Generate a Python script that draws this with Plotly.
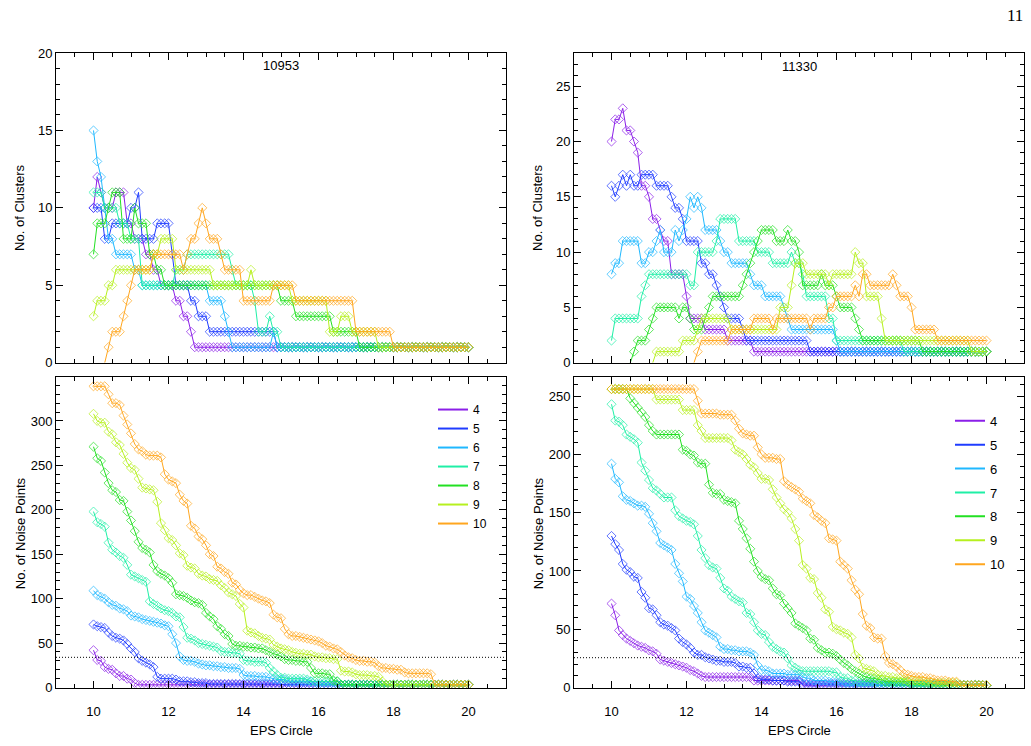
import plotly.graph_objects as go

# ---------------- DATA ----------------
eps = [10.0, 10.1, 10.2, 10.3, 10.4, 10.5, 10.6, 10.7, 10.8, 10.9,
       11.0, 11.1, 11.2, 11.3, 11.4, 11.5, 11.6, 11.7, 11.8, 11.9,
       12.0, 12.1, 12.2, 12.3, 12.4, 12.5, 12.6, 12.7, 12.8, 12.9,
       13.0, 13.1, 13.2, 13.3, 13.4, 13.5, 13.6, 13.7, 13.8, 13.9,
       14.0, 14.1, 14.2, 14.3, 14.4, 14.5, 14.6, 14.7, 14.8, 14.9,
       15.0, 15.1, 15.2, 15.3, 15.4, 15.5, 15.6, 15.7, 15.8, 15.9,
       16.0, 16.1, 16.2, 16.3, 16.4, 16.5, 16.6, 16.7, 16.8, 16.9,
       17.0, 17.1, 17.2, 17.3, 17.4, 17.5, 17.6, 17.7, 17.8, 17.9,
       18.0, 18.1, 18.2, 18.3, 18.4, 18.5, 18.6, 18.7, 18.8, 18.9,
       19.0, 19.1, 19.2, 19.3, 19.4, 19.5, 19.6, 19.7, 19.8, 19.9,
       20.0]

min_pts = ["4", "5", "6", "7", "8", "9", "10"]

# ---- No. of clusters, object 10953 ----
clusters_10953_k4 = [10,12,11,10,10,10,11,11,11,9, 9,8,8,8,7,7,6,6,5,5, 5,5,4,4,3,3,2,1,1,1,
                     1,1,1,1,1,1,1,1,1,1, 1,1,1,1,1,1,1,1,1,1, 1,1,1,1,1,1,1,1,1,1,
                     1,1,1,1,1,1,1,1,1,1, 1,1,1,1,1,1,1,1,1,1, 1,1,1,1,1,1,1,1,1,1,
                     1,1,1,1,1,1,1,1,1,1, 1]
clusters_10953_k5 = [10,10,10,8,8,9,9,9,9,9, 10,10,11,8,8,8,8,9,9,9, 9,7,5,5,5,5,4,4,3,3,
                     3,2,2,2,2,2,2,2,2,2, 2,2,2,2,2,2,2,2,2,1, 1,1,1,1,1,1,1,1,1,1,
                     1,1,1,1,1,1,1,1,1,1, 1,1,1,1,1,1,1,1,1,1, 1,1,1,1,1,1,1,1,1,1,
                     1,1,1,1,1,1,1,1,1,1, 1]
clusters_10953_k6 = [15,13,12,10,8,8,7,7,7,7, 7,6,6,5,5,5,5,5,5,5, 5,5,5,5,5,5,5,5,5,5,
                     5,4,4,4,4,3,2,1,1,1, 1,1,1,1,1,1,1,1,2,1, 1,1,1,1,1,1,1,1,1,1,
                     1,1,1,1,1,1,1,1,1,1, 1,1,1,1,1,1,1,1,1,1, 1,1,1,1,1,1,1,1,1,1,
                     1,1,1,1,1,1,1,1,1,1, 1]
clusters_10953_k7 = [11,11,11,10,10,10,10,9,9,9, 8,8,8,5,5,5,5,5,5,5, 5,5,6,6,6,7,7,7,7,7,
                     7,7,7,7,7,7,7,6,5,5, 5,5,5,4,2,2,2,3,2,2, 1,1,1,1,1,1,1,1,1,1,
                     1,1,1,1,1,1,1,1,1,1, 1,1,1,1,1,1,1,1,1,1, 1,1,1,1,1,1,1,1,1,1,
                     1,1,1,1,1,1,1,1,1,1, 1]
clusters_10953_k8 = [7,9,9,9,10,11,11,11,8,8, 8,10,9,9,9,7,7,6,6,5, 5,5,5,5,5,5,5,5,5,5,
                     5,5,5,5,5,5,5,5,5,5, 5,5,5,5,5,5,5,5,5,5, 4,4,4,4,3,3,3,3,3,3,
                     3,3,3,3,2,2,2,2,2,2, 2,1,1,1,1,1,1,1,1,1, 1,1,1,1,1,1,1,1,1,1,
                     1,1,1,1,1,1,1,1,1,1, 1]
clusters_10953_k9 = [3,4,4,4,5,5,6,6,6,6, 6,6,6,6,6,6,7,7,8,8, 8,8,6,6,6,6,6,6,6,6,
                     6,6,5,5,5,5,5,5,5,5, 5,5,6,5,5,5,5,5,5,5, 5,5,5,4,4,4,4,4,4,4,
                     4,4,4,2,2,2,3,3,3,2, 2,2,2,2,2,2,1,1,1,1, 1,1,1,1,1,1,1,1,1,1,
                     1,1,1,1,1,1,1,1,1,1, 1]
clusters_10953_k10 = [0,0,0,0,1,2,2,2,3,4, 5,6,6,6,6,6,7,7,7,7, 7,7,7,7,6,7,8,8,9,10,
                      9,8,8,8,7,6,6,6,6,6, 4,4,4,4,4,4,4,4,5,5, 5,5,5,5,4,4,4,4,4,4,
                      4,4,4,4,4,4,4,4,4,4, 2,2,2,2,2,2,2,2,2,2, 1,1,1,1,1,1,1,1,1,1,
                      1,1,1,1,1,1,1,1,1,1, 1]

# ---- No. of clusters, object 11330 ----
clusters_11330_k4 = [20,22,22,23,21,21,20,19,16,16, 15,13,13,12,11,11,8,8,8,8, 6,4,4,4,4,3,3,3,3,3,
                     3,2,2,2,2,2,2,2,1,1, 1,1,1,1,1,1,1,1,1,1, 1,1,1,1,1,1,1,1,1,1,
                     1,1,1,1,1,1,1,1,1,1, 1,1,1,1,1,1,1,1,1,1, 1,1,1,1,1,1,1,1,1,1,
                     1,1,1,1,1,1,1,1,1,1, 1]
clusters_11330_k5 = [16,15,16,17,16,17,16,16,17,17, 17,17,16,16,16,16,15,14,14,13, 11,11,11,11,9,9,8,8,7,6,
                     5,4,4,4,4,3,2,2,2,2, 2,2,2,2,2,2,2,2,2,2, 2,2,2,1,1,1,1,1,1,1,
                     1,1,1,1,1,1,1,1,1,1, 1,1,1,1,1,1,1,1,1,1, 1,1,1,1,1,1,1,1,1,1,
                     1,1,1,1,1,1,1,1,1,1, 1]
clusters_11330_k6 = [8,9,9,11,11,11,11,11,9,9, 10,10,11,12,10,10,10,12,11,12, 13,15,14,15,14,12,12,12,12,11,
                     10,10,9,9,9,9,9,8,7,7, 7,6,6,6,6,6,5,4,3,3, 3,3,3,3,3,3,3,3,3,3,
                     2,1,1,1,1,1,1,1,1,1, 1,1,1,1,1,1,1,1,1,1, 1,1,1,1,1,1,1,1,1,1,
                     1,1,1,1,1,1,1,1,1,1, 1]
clusters_11330_k7 = [2,4,4,4,4,4,4,4,6,7, 8,8,8,8,8,8,8,8,8,8, 8,7,7,10,10,10,10,10,11,13,
                     13,13,13,13,11,11,11,11,11,10, 10,10,10,9,9,9,9,9,10,9, 9,8,6,6,6,6,6,6,4,4,
                     2,2,2,2,2,2,2,2,2,2, 2,2,2,2,2,2,2,2,1,1, 1,1,1,1,1,1,1,1,1,1,
                     1,1,1,1,1,1,1,1,1,1, 1]
clusters_11330_k8 = [0,0,0,0,0,0,1,2,2,2, 3,4,5,5,5,5,5,5,4,5, 5,4,3,3,3,4,5,6,6,6,
                     6,6,6,6,6,7,8,9,10,11, 12,12,12,12,11,11,11,12,11,11, 10,7,7,7,7,7,8,7,7,7,
                     6,5,5,5,5,4,3,2,2,2, 2,2,2,2,2,2,2,2,2,2, 2,2,2,1,1,1,1,1,1,1,
                     1,1,1,1,1,1,1,1,1,1, 1]
clusters_11330_k9 = [0,0,0,0,0,0,0,0,0,0, 0,0,1,1,1,1,1,1,1,2, 2,2,2,3,4,4,4,4,4,4,
                     4,4,3,3,3,3,3,3,3,3, 3,3,3,3,3,5,5,5,7,9, 9,9,8,8,8,8,8,8,7,8,
                     8,8,8,8,8,10,9,9,6,6, 6,6,4,2,2,2,2,2,2,2, 2,2,2,2,2,2,2,2,2,2,
                     2,2,2,2,2,2,1,1,1,1, 1]
clusters_11330_k10 = [0,0,0,0,0,0,0,0,0,0, 0,0,0,0,0,0,0,0,0,0, 0,0,0,1,2,2,2,2,2,2,
                      2,2,3,3,3,3,3,3,4,4, 4,4,4,3,4,4,4,4,4,4, 4,4,4,3,4,4,4,4,5,5,
                      6,6,6,6,6,7,6,8,8,7, 7,7,7,7,7,8,7,6,6,6, 5,3,3,3,3,3,3,2,2,2,
                      2,2,2,2,2,2,2,2,2,2, 2]

# ---- No. of noise points, object 10953 ----
noise_10953_k4 = [42,31,30,23,21,20,16,13,13,10, 9,5,3,3,3,3,3,3,3,3, 3,3,3,3,3,3,3,3,3,3,
                  3,3,3,3,3,3,3,3,3,3, 3,3,3,3,3,3,3,3,3,3, 3,3,3,3,3,3,3,3,3,3,
                  3,3,3,3,3,3,3,3,3,3, 3,3,3,3,3,3,3,3,3,3, 3,3,3,3,3,3,3,3,3,3,
                  3,3,3,3,3,3,3,3,3,3, 3]
noise_10953_k5 = [71,69,68,67,62,58,56,55,53,49, 44,40,33,30,28,26,23,12,10,10, 10,10,9,7,7,7,6,6,5,5,
                  5,4,4,4,4,4,4,4,4,4, 4,4,4,4,4,4,4,4,4,4, 4,3,3,3,3,3,3,3,3,3,
                  3,3,3,3,3,3,3,3,3,3, 3,3,3,3,3,3,3,3,3,3, 3,3,3,3,3,3,3,3,3,3,
                  3,3,3,3,3,3,3,3,3,3, 3]
noise_10953_k6 = [109,104,102,100,96,93,92,89,88,86, 81,80,79,77,76,75,74,73,72,70, 69,60,50,35,31,30,30,29,27,26,
                  25,25,24,24,23,23,22,22,22,21, 14,13,13,13,12,12,12,11,10,9, 9,9,7,7,7,7,7,7,7,3,
                  3,3,3,3,3,3,3,3,3,3, 3,3,3,3,3,3,3,3,3,3, 3,3,3,3,3,3,3,3,3,3,
                  3,3,3,3,3,3,3,3,3,3, 3]
noise_10953_k7 = [198,186,184,181,163,155,152,148,146,138, 127,125,123,121,119,97,94,92,89,87, 86,84,80,79,68,56,55,53,50,49,
                  48,47,46,45,41,40,40,39,39,38, 31,30,30,29,29,29,28,22,18,14, 11,11,10,10,10,10,10,9,7,7,
                  7,7,7,7,7,7,3,3,3,3, 3,3,3,3,3,3,3,3,3,3, 3,3,3,3,3,3,3,3,3,3,
                  3,3,3,3,3,3,3,3,3,3, 3]
noise_10953_k8 = [271,258,255,242,230,222,220,211,210,198, 188,176,164,157,155,152,138,131,128,126, 123,118,105,104,103,101,98,96,95,93,
                  84,80,77,69,66,60,58,49,47,47, 46,46,45,45,44,44,42,40,38,37, 35,32,31,31,30,30,29,29,22,16,
                  16,16,15,15,8,7,3,3,3,3, 3,3,3,3,3,3,3,3,3,3, 3,3,3,3,3,3,3,3,3,3,
                  3,3,3,3,3,3,3,3,3,3, 3]
noise_10953_k9 = [308,300,298,298,288,285,276,273,263,253, 247,245,235,225,224,223,222,209,185,177, 168,166,160,151,149,137,135,134,128,126,
                  125,122,121,120,115,112,107,105,103,94, 90,64,62,61,58,56,55,54,48,46, 44,43,42,40,39,38,38,37,37,35,
                  34,34,33,33,32,32,19,18,18,17, 15,14,14,14,13,13,12,7,3,3, 3,3,3,3,3,3,3,3,3,3,
                  3,3,3,3,3,3,3,3,3,3, 3]
noise_10953_k10 = [339,339,339,339,330,320,320,318,306,296, 286,274,268,266,262,261,261,261,259,240, 234,232,230,217,210,207,182,179,170,167,
                   160,150,148,136,134,130,128,118,116,110, 106,104,104,102,100,98,97,95,82,79, 78,66,60,58,58,57,56,55,54,53,
                   52,50,47,46,44,43,40,36,34,33, 31,30,30,29,29,28,24,22,22,21, 21,20,20,17,16,16,16,16,16,16,
                   15,3,3,3,3,3,3,3,3,3, 3]

# ---- No. of noise points, object 11330 ----
noise_11330_k4 = [72,62,49,45,42,40,38,36,35,34, 32,31,29,24,23,22,21,20,19,18, 17,15,14,12,10,9,9,9,9,9,
                  9,9,9,9,9,9,9,9,6,6, 6,6,6,6,6,6,6,6,6,6, 6,2,2,2,2,2,2,2,2,2,
                  2,2,2,2,2,2,2,2,2,2, 2,2,2,2,2,2,2,2,2,2, 2,2,2,2,2,2,2,2,2,2,
                  2,2,2,2,2,2,2,2,2,2, 2]
noise_11330_k5 = [130,123,118,106,101,99,95,94,82,77, 68,67,62,56,54,53,51,49,42,39, 37,34,30,28,28,26,25,24,23,23,
                  22,22,22,21,18,18,17,17,12,8, 7,7,7,6,6,6,6,5,5,5, 5,3,3,3,3,3,3,3,3,3,
                  3,3,3,3,3,3,3,3,3,3, 3,2,2,2,2,2,2,2,2,2, 2,2,2,2,2,2,2,2,2,2,
                  2,2,2,2,2,2,2,2,2,2, 2]
noise_11330_k6 = [192,179,176,164,161,160,158,156,156,155, 149,141,134,124,122,120,118,106,98,91, 78,76,70,64,56,49,47,45,43,35,
                  33,33,32,32,31,31,31,30,28,19, 15,15,14,12,12,12,12,11,11,11, 11,9,8,8,6,6,6,6,5,5,
                  5,5,2,2,2,2,2,2,2,2, 2,2,2,2,2,2,2,2,2,2, 2,2,2,2,2,2,2,2,2,2,
                  2,2,2,2,2,2,2,2,2,2, 2]
noise_11330_k7 = [243,229,228,225,217,215,213,210,193,186, 178,171,169,166,163,163,163,152,147,145, 143,142,140,130,118,111,105,103,102,94,
                  85,83,78,76,74,73,64,63,56,49, 46,45,39,35,33,31,30,25,19,17, 15,14,14,14,14,14,14,14,14,13,
                  13,9,8,8,6,6,5,5,5,5, 5,4,4,4,4,4,4,4,4,2, 2,2,2,2,2,2,2,2,2,2,
                  2,2,2,2,2,2,2,2,2,2, 2]
noise_11330_k8 = [256,256,256,256,256,248,244,240,236,232, 225,220,217,217,217,217,217,217,217,204, 203,200,199,193,192,192,174,167,166,166,
                  161,160,159,158,143,136,128,119,108,100, 95,93,92,85,80,79,72,68,64,55, 53,51,49,42,41,34,32,30,30,29,
                  27,24,21,19,16,14,12,10,9,8, 8,7,7,5,5,5,5,5,5,5, 3,3,3,3,3,3,3,3,3,2,
                  2,2,2,2,2,2,2,2,2,2, 2]
noise_11330_k9 = [256,256,256,256,256,256,256,256,256,256, 256,256,247,247,247,247,247,247,247,238, 238,238,238,225,220,214,214,214,214,214,
                  214,214,212,204,202,200,196,191,189,184, 179,179,178,170,163,158,153,150,145,136, 126,105,102,94,93,81,77,67,65,52,
                  50,49,47,46,43,28,25,17,16,15, 14,11,10,10,9,9,8,8,7,6, 6,6,6,6,5,5,4,4,4,4,
                  4,4,4,2,2,2,2,2,2,2, 2]
noise_11330_k10 = [256,256,256,256,256,256,256,256,256,256, 256,256,256,256,256,256,256,256,256,256, 256,256,256,246,235,235,235,235,235,234,
                   234,234,234,229,222,218,217,216,216,206, 200,197,197,197,196,196,177,174,172,170, 168,162,160,158,148,146,143,141,128,127,
                   126,108,105,102,92,84,80,63,53,51, 43,42,42,27,21,20,18,15,12,11, 10,9,9,9,8,8,7,6,6,6,
                   5,5,5,2,2,2,2,2,2,2, 2]

noise_threshold_10953 = 34
noise_threshold_11330 = 25.6

# ---------------- STYLE ----------------
colors = ["#8B1FE8", "#1F3CFF", "#1FB8FF", "#1FEFA6", "#22E022", "#B6F01F", "#FFA61F"]
FONT = "Liberation Sans"

panels = [
    dict(series=[clusters_10953_k4, clusters_10953_k5, clusters_10953_k6, clusters_10953_k7,
                 clusters_10953_k8, clusters_10953_k9, clusters_10953_k10],
         xa="x", ya="y", legend=None, hide_leading_zeros=True),
    dict(series=[clusters_11330_k4, clusters_11330_k5, clusters_11330_k6, clusters_11330_k7,
                 clusters_11330_k8, clusters_11330_k9, clusters_11330_k10],
         xa="x2", ya="y2", legend=None, hide_leading_zeros=True),
    dict(series=[noise_10953_k4, noise_10953_k5, noise_10953_k6, noise_10953_k7,
                 noise_10953_k8, noise_10953_k9, noise_10953_k10],
         xa="x3", ya="y3", legend="legend", hide_leading_zeros=False),
    dict(series=[noise_11330_k4, noise_11330_k5, noise_11330_k6, noise_11330_k7,
                 noise_11330_k8, noise_11330_k9, noise_11330_k10],
         xa="x4", ya="y4", legend="legend2", hide_leading_zeros=False),
]

fig = go.Figure()

for p in panels:
    for k, (vals, col) in enumerate(zip(p["series"], colors)):
        yv = list(vals)
        sizes = [7] * len(yv)
        if p["hide_leading_zeros"]:
            # zero values lie below the visible frame: keep only the last one so the line rises from below
            n0 = 0
            while n0 < len(yv) and yv[n0] == 0:
                n0 += 1
            for j in range(max(0, n0 - 1)):
                yv[j] = None
            sizes = [0 if v == 0 else 7 for v in vals]
        fig.add_trace(go.Scatter(
            x=eps, y=yv, xaxis=p["xa"], yaxis=p["ya"], mode="lines+markers",
            line=dict(color=col, width=1),
            marker=dict(symbol="diamond-open", size=sizes, color=col, line=dict(width=1, color=col)),
            showlegend=False, hoverinfo="skip", connectgaps=False))
    if p["legend"]:
        for k, col in enumerate(colors):
            fig.add_trace(go.Scatter(
                x=[None], y=[None], xaxis=p["xa"], yaxis=p["ya"], mode="lines",
                line=dict(color=col, width=2), name=min_pts[k], legend=p["legend"],
                legendgroup=p["legend"] + min_pts[k], showlegend=True))

W, H = 1031, 746
def dx(a, b):
    return [a / W, b / W]
def dy(top, bottom):
    return [1 - bottom / H, 1 - top / H]

tickfont = dict(family=FONT, size=13, color="black")
def xaxis(domain, anchor, labels):
    return dict(domain=domain, anchor=anchor, range=[9, 21], tick0=0, dtick=2,
                showline=True, linecolor="black", linewidth=1, mirror="allticks",
                ticks="inside", ticklen=7, tickwidth=1, tickcolor="black",
                minor=dict(dtick=0.5, ticks="inside", ticklen=4, tickcolor="black", tickwidth=1, showgrid=False),
                showgrid=False, zeroline=False, showticklabels=labels, tickfont=tickfont,
                ticklabelstandoff=12)
def yaxis(domain, anchor, rng, dtick, mdtick):
    return dict(domain=domain, anchor=anchor, range=rng, tick0=0, dtick=dtick,
                showline=True, linecolor="black", linewidth=1, mirror="allticks",
                ticks="inside", ticklen=7, tickwidth=1, tickcolor="black",
                minor=dict(dtick=mdtick, ticks="inside", ticklen=4, tickcolor="black", tickwidth=1, showgrid=False),
                showgrid=False, zeroline=False, tickfont=tickfont)

top_d = dy(47, 363)
bot_d = dy(378, 694.5)
left_d = dx(56, 506)
right_d = dx(574, 1024)

fig.update_layout(
    width=W, height=H, margin=dict(l=0, r=0, t=0, b=0),
    paper_bgcolor="white", plot_bgcolor="white",
    font=dict(family=FONT, size=13, color="black"),
    xaxis=xaxis(left_d, "y", False), yaxis=yaxis(top_d, "x", [0, 20], 5, 1),
    xaxis2=xaxis(right_d, "y2", False), yaxis2=yaxis(top_d, "x2", [0, 28], 5, 1),
    xaxis3=xaxis(left_d, "y3", True), yaxis3=yaxis(bot_d, "x3", [0, 349], 50, 10),
    xaxis4=xaxis(right_d, "y4", True), yaxis4=yaxis(bot_d, "x4", [0, 266], 50, 10),
    legend=dict(x=433 / W, y=1 - 396 / H, xanchor="left", yanchor="top",
                bgcolor="rgba(0,0,0,0)", borderwidth=0, tracegroupgap=0,
                font=dict(family=FONT, size=12, color="black")),
    legend2=dict(x=950 / W, y=1 - 407 / H, xanchor="left", yanchor="top",
                 bgcolor="rgba(0,0,0,0)", borderwidth=0, tracegroupgap=4,
                 font=dict(family=FONT, size=13, color="black")),
    showlegend=True,
)

fig.add_shape(type="line", xref="x3 domain", x0=0, x1=1, yref="y3",
              y0=noise_threshold_10953, y1=noise_threshold_10953,
              line=dict(color="black", width=1, dash="1px,2px"))
fig.add_shape(type="line", xref="x4 domain", x0=0, x1=1, yref="y4",
              y0=noise_threshold_11330, y1=noise_threshold_11330,
              line=dict(color="black", width=1, dash="1px,2px"))

ann = []
ann.append(dict(text="10953", xref="x", yref="y", x=15, y=19.2, showarrow=False,
                font=dict(family=FONT, size=13, color="black")))
ann.append(dict(text="11330", xref="x2", yref="y2", x=15, y=26.8, showarrow=False,
                font=dict(family=FONT, size=13, color="black")))
for xp, yp, t in [(20, 205, "No. of Clusters"), (538, 205, "No. of Clusters"),
                  (20, 537, "No. of Noise Points"), (538, 537, "No. of Noise Points")]:
    ann.append(dict(text=t, xref="paper", yref="paper", x=xp / W, y=1 - yp / H, textangle=-90,
                    showarrow=False, xanchor="center", yanchor="middle",
                    font=dict(family=FONT, size=13, color="black")))
for xp in (281, 799):
    ann.append(dict(text="EPS Circle", xref="paper", yref="paper", x=xp / W, y=1 - 738 / H,
                    showarrow=False, xanchor="center", yanchor="middle",
                    font=dict(family=FONT, size=13, color="black")))
ann.append(dict(text="11", xref="paper", yref="paper", x=1015 / W, y=1 - 9 / H,
                showarrow=False, xanchor="center", yanchor="middle",
                font=dict(family="Liberation Serif", size=17, color="black")))
fig.update_layout(annotations=ann)

fig.write_html("out.html")
